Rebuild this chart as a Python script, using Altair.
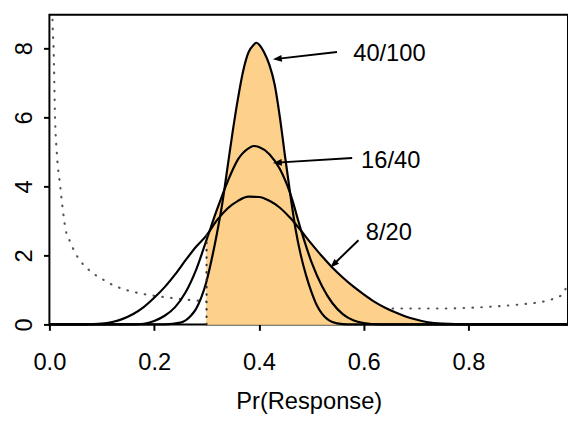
import math
import altair as alt
import pandas as pd

# ---------------- values ----------------
# posterior curve for 8/20
x_8_20 = [0.00, 0.06, 0.08, 0.10, 0.12, 0.14, 0.16, 0.18, 0.20, 0.22, 0.24, 0.26, 0.28, 0.30,
          0.32, 0.34, 0.36, 0.38, 0.40, 0.42, 0.44, 0.46, 0.48, 0.50, 0.52, 0.54, 0.56, 0.58,
          0.60, 0.62, 0.64, 0.66, 0.68, 0.70, 0.72, 0.75, 0.80, 0.99]
y_8_20 = [0.0, 0.0, 0.005, 0.02, 0.07, 0.16, 0.30, 0.50, 0.77, 1.08, 1.45, 1.86, 2.25, 2.58,
          3.02, 3.36, 3.58, 3.70, 3.69, 3.58, 3.38, 3.08, 2.72, 2.34, 1.98, 1.65, 1.36, 1.10,
          0.87, 0.66, 0.49, 0.35, 0.23, 0.14, 0.07, 0.02, 0.0, 0.0]

# posterior curve for 16/40
x_16_40 = [0.00, 0.16, 0.18, 0.20, 0.22, 0.24, 0.26, 0.28, 0.30, 0.32, 0.34, 0.36, 0.38, 0.39,
           0.40, 0.42, 0.44, 0.46, 0.48, 0.50, 0.52, 0.54, 0.56, 0.58, 0.60, 0.63, 0.99]
y_16_40 = [0.0, 0.0, 0.02, 0.10, 0.25, 0.50, 0.93, 1.58, 2.45, 3.33, 4.13, 4.78, 5.10, 5.17,
           5.14, 4.93, 4.50, 3.78, 2.75, 1.82, 1.12, 0.62, 0.30, 0.12, 0.04, 0.0, 0.0]

# posterior curve for 40/100
x_40_100 = [0.00, 0.22, 0.25, 0.27, 0.28, 0.29, 0.30, 0.31, 0.32, 0.33, 0.34, 0.35, 0.36, 0.37,
            0.38, 0.39, 0.395, 0.40, 0.41, 0.42, 0.43, 0.44, 0.45, 0.46, 0.47, 0.48, 0.49, 0.50,
            0.51, 0.52, 0.53, 0.54, 0.56, 0.58, 0.99]
y_40_100 = [0.0, 0.0, 0.05, 0.25, 0.45, 0.78, 1.25, 1.90, 2.65, 3.50, 4.55, 5.60, 6.55, 7.35,
            7.88, 8.10, 8.16, 8.11, 7.88, 7.52, 6.95, 6.00, 4.85, 3.75, 2.75, 2.00, 1.42, 0.95,
            0.57, 0.32, 0.16, 0.07, 0.01, 0.0, 0.0]

# dotted prior curve
prior_x = [0.005, 0.006, 0.008, 0.0107, 0.014, 0.0207, 0.0245, 0.031, 0.04, 0.05, 0.06, 0.08,
           0.10, 0.12, 0.15, 0.18, 0.22, 0.26, 0.30, 0.35, 0.40, 0.50, 0.60, 0.65, 0.70, 0.75,
           0.80, 0.85, 0.90, 0.93, 0.96, 0.98, 0.99]
prior_y = [9.6, 8.75, 8.0, 6.0, 5.0, 4.0, 3.46, 2.75, 2.38, 2.05, 1.82, 1.52,
           1.32, 1.15, 0.98, 0.88, 0.79, 0.72, 0.67, 0.61, 0.57, 0.51, 0.47, 0.46, 0.46, 0.46,
           0.48, 0.52, 0.58, 0.63, 0.73, 0.88, 1.22]

curve_names = ["8/20", "16/40", "40/100"]
threshold = 0.30

# annotation labels and arrows (data units)
label_x = [0.604, 0.595, 0.580]
label_y = [2.65, 4.74, 7.84]
arrow_tail_x = [0.590, 0.578, 0.549]
arrow_tail_y = [2.44, 4.82, 7.89]
arrow_head_x = [0.5364, 0.4267, 0.4267]
arrow_head_y = [1.65, 4.68, 7.68]

x_ticks = [0.0, 0.2, 0.4, 0.6, 0.8]
y_ticks = [0, 2, 4, 6, 8]

# ---------------- layout ----------------
XMAX = 0.99
YMAX = 8.97
W = 526
H = 314
FONT = "Liberation Sans"
FS = 24
FILL = "#FDD08C"

curves = pd.concat([
    pd.DataFrame({"x": xs, "y": ys, "curve": name})
    for name, xs, ys in zip(curve_names, [x_8_20, x_16_40, x_40_100], [y_8_20, y_16_40, y_40_100])
], ignore_index=True)
shaded = curves[curves["x"] >= threshold]
prior = pd.DataFrame({"x": prior_x, "y": prior_y})

at_threshold = curves[curves["x"] == threshold]["y"].max()
thr = pd.DataFrame({"x": [threshold], "y": [0.0], "y2": [at_threshold]})

sx = W / XMAX
sy = H / YMAX
rows = []
for i in range(3):
    dx = (arrow_head_x[i] - arrow_tail_x[i]) * sx
    dy = -(arrow_head_y[i] - arrow_tail_y[i]) * sy
    L = math.hypot(dx, dy)
    ang = math.degrees(math.atan2(dx, -dy)) % 360
    back = 4.0
    ex = arrow_head_x[i] - (dx / L * back) / sx
    ey = arrow_head_y[i] + (dy / L * back) / sy
    rows.append({"tx": arrow_tail_x[i], "ty": arrow_tail_y[i], "ex": ex, "ey": ey,
                 "hx": arrow_head_x[i], "hy": arrow_head_y[i], "ang": ang,
                 "lx": label_x[i], "ly": label_y[i], "label": curve_names[i]})
ann = pd.DataFrame(rows)

xscale = alt.Scale(domain=[0, XMAX], nice=False, zero=False)
yscale = alt.Scale(domain=[0, YMAX], nice=False, zero=False)
xaxis = alt.Axis(values=x_ticks, format=".1f", title="Pr(Response)", grid=False, domain=False,
                 tickSize=6, tickWidth=2, tickColor="black", labelPadding=21,
                 labelFlush=False, labelFontSize=FS, labelFont=FONT, labelColor="black",
                 titleFontSize=FS, titleFont=FONT, titleColor="black",
                 titleFontWeight="normal", titlePadding=15)
yaxis = alt.Axis(values=y_ticks, title="", grid=False, domain=False, tickSize=6, tickWidth=2,
                 tickColor="black", labelAngle=270, labelAlign="center",
                 labelBaseline="alphabetic", labelPadding=12, labelFlush=False,
                 labelFontSize=FS, labelFont=FONT, labelColor="black")


def X(f):
    return alt.X(f, type="quantitative", scale=xscale, axis=xaxis)


def Y(f, **kw):
    return alt.Y(f, type="quantitative", scale=yscale, axis=yaxis, **kw)


prior_layer = alt.Chart(prior).mark_line(
    color="#555555", strokeWidth=2.2, strokeDash=[0.5, 8.5], strokeCap="round",
    interpolate="monotone", clip=True
).encode(x=X("x"), y=Y("y"))

fill_layer = alt.Chart(shaded).mark_area(
    color=FILL, opacity=1, interpolate="monotone"
).encode(x=X("x"), y=Y("y", stack=False), detail="curve:N")

line_layer = alt.Chart(curves).mark_line(
    color="black", strokeWidth=2.2, interpolate="monotone"
).encode(x=X("x"), y=Y("y"), detail="curve:N")

thr_layer = alt.Chart(thr).mark_rule(
    color="#333333", strokeWidth=2.2, strokeDash=[0.5, 7], strokeCap="round"
).encode(x=X("x"), y=Y("y"), y2="y2")

arrow_lines = alt.Chart(ann).mark_rule(color="black", strokeWidth=2).encode(
    x=X("tx"), y=Y("ty"), x2="ex", y2="ey")

arrow_heads = alt.Chart(ann).mark_point(
    shape="M0,0L-0.75,2L0.75,2Z", filled=True, color="black", opacity=1, size=81
).encode(x=X("hx"), y=Y("hy"), angle=alt.Angle("ang:Q", scale=None))

texts = alt.Chart(ann).mark_text(
    align="left", baseline="middle", fontSize=FS, font=FONT, color="black"
).encode(x=X("lx"), y=Y("ly"), text="label:N")

chart = alt.layer(
    prior_layer, fill_layer, line_layer, thr_layer, arrow_lines, arrow_heads, texts
).properties(
    width=W, height=H,
    autosize=alt.AutoSizeParams(type="none"),
    padding={"left": 42, "top": 4, "right": 0, "bottom": 90},
).configure_view(stroke="black", strokeWidth=2)

chart.save("out.html", embed_options={"renderer": "svg", "actions": False})
